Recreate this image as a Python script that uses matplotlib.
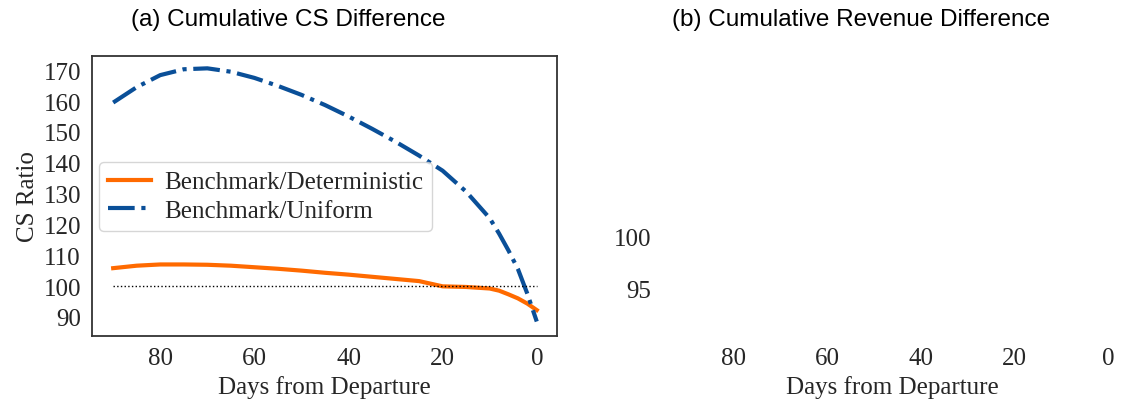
import numpy as np
import matplotlib
matplotlib.use('Agg')
import matplotlib.pyplot as plt

# cumulative CS ratio vs days before departure
days = [90, 85, 80, 75, 70, 65, 60, 55, 50, 45, 40, 35, 30, 25, 20, 15, 10, 8, 6, 4, 2, 0]
cs_det = [105.8, 106.6, 107.0, 107.0, 106.9, 106.6, 106.1, 105.6, 105.0, 104.3, 103.7,
          103.0, 102.3, 101.6, 99.9, 99.7, 99.2, 98.5, 97.3, 96.0, 94.3, 92.2]
cs_uni = [159.5, 164.5, 168.4, 170.3, 170.6, 169.5, 167.5, 164.9, 162.0, 158.7, 155.0,
          151.0, 146.8, 142.3, 137.4, 130.6, 122.0, 117.0, 111.5, 105.5, 97.5, 88.5]
baseline = 100

xticks = [80, 60, 40, 20, 0]
yticks_a = [90, 100, 110, 120, 130, 140, 150, 160, 170]
yticks_b = [95, 100]

serif = 'Liberation Serif'
sans = 'Liberation Sans'
fs = 18

fig = plt.figure(figsize=(11.22, 4.06), dpi=100)
ax1 = fig.add_axes([92/1122, 69/406, 465/1122, 280/406])
ax2 = fig.add_axes([662/1122, 69/406, 460/1122, 280/406])

ax1.plot(days, cs_det, color='#ff6a00', lw=3, label='Benchmark/Deterministic')
ax1.plot(days, cs_uni, color='#0a4f98', lw=3, ls='-.', label='Benchmark/Uniform')
ax1.plot([days[0], days[-1]], [baseline, baseline], color='black', lw=1, ls=':')

ax1.set_xlim(94.5, -4.3)
ax1.set_ylim(83.8, 174.6)
ax1.set_xticks(xticks)
ax1.set_yticks(yticks_a)
for s in ax1.spines.values():
    s.set_color('#333333')
    s.set_linewidth(1.3)
ax1.tick_params(length=0, pad=8, labelsize=fs, labelcolor='#262626')
for lab in ax1.get_xticklabels() + ax1.get_yticklabels():
    lab.set_family(serif)
ax1.set_xlabel('Days from Departure', fontsize=fs, family=serif, color='#262626', labelpad=4)
ax1.set_ylabel('CS Ratio', fontsize=fs, family=serif, color='#262626', labelpad=3)
leg = ax1.legend(loc='upper left', bbox_to_anchor=(0.015, 0.621), borderaxespad=0,
                 prop={'family': serif, 'size': 18}, handlelength=1.75, handletextpad=0.5,
                 fancybox=True, framealpha=0.8, edgecolor='#cccccc', labelspacing=0.25,
                 borderpad=0.35)
for t in leg.get_texts():
    t.set_color('#262626')

ax2.set_xlim(95.3, -3.0)
ax2.set_ylim(90.4, 117.3)
ax2.set_xticks(xticks)
ax2.set_yticks(yticks_b)
for s in ax2.spines.values():
    s.set_visible(False)
ax2.tick_params(length=0, pad=8, labelsize=fs, labelcolor='#262626')
for lab in ax2.get_xticklabels() + ax2.get_yticklabels():
    lab.set_family(serif)
ax2.set_xlabel('Days from Departure', fontsize=fs, family=serif, color='#262626', labelpad=4)

fig.text(288/1122, 1 - 20/406, '(a) Cumulative CS Difference', ha='center', va='center',
         fontsize=17.5, family=sans, color='black')
fig.text(861/1122, 1 - 20/406, '(b) Cumulative Revenue Difference', ha='center', va='center',
         fontsize=17.5, family=sans, color='black')

fig.savefig('out.png', dpi=100)
